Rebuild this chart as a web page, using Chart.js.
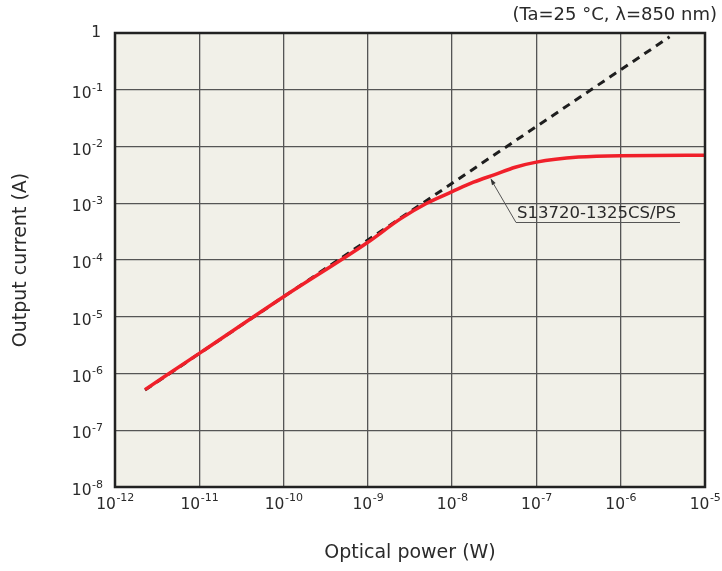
<!DOCTYPE html>
<html>
<head>
<meta charset="utf-8">
<script src="https://cdn.jsdelivr.net/npm/chart.js@4/dist/chart.umd.min.js"></script>
<style>
  html, body { margin: 0; padding: 0; background: #ffffff; }
  #wrap { width: 722px; height: 571px; position: relative; }
</style>
</head>
<body>
<div id="wrap"><canvas id="c" width="722" height="571"></canvas></div>
<script>
// Optical power (W) vs output current (A), log-log
const powerW   = [2.27e-12, 1e-11, 1e-10, 1e-9, 2.43e-9, 5e-9, 1e-8, 1.79e-8, 3.2e-8, 5.6e-8, 1e-7, 3.16e-7, 1e-6, 1e-5];
const currentA = [5.2e-7, 2.26e-6, 2.25e-5, 2.05e-4, 5.3e-4, 1.0e-3, 1.6e-3, 2.35e-3, 3.2e-3, 4.3e-3, 5.3e-3, 6.5e-3, 6.9e-3, 7.0e-3];

// Ideal linear response (dashed reference)
const linearPowerW   = [2.27e-12, 3.8e-6];
const linearCurrentA = [5.1e-7, 0.855];

// Decade ticks (exponents of 10)
const xExponents = [-12, -11, -10, -9, -8, -7, -6, -5];
const yExponents = [-8, -7, -6, -5, -4, -3, -2, -1, 0];

const seriesName = 'S13720-1325CS/PS';
const labelAnchor = [2.85e-8, 2.75e-3];
const conditionText = '(Ta=25 °C, λ=850 nm)';
const xTitle = 'Optical power (W)';
const yTitle = 'Output current (A)';

const FONT = '"DejaVu Sans", Verdana, sans-serif';
const TEXT = '#2a2a2a';

const toPoints = (xs, ys) => xs.map((x, i) => ({ x, y: ys[i] }));

const decorations = {
  id: 'decorations',
  beforeDraw(chart) {
    const { ctx, chartArea: a } = chart;
    ctx.save();
    ctx.fillStyle = '#f1f0e8';
    ctx.fillRect(a.left, a.top, a.right - a.left, a.bottom - a.top);
    ctx.restore();
  },
  afterDraw(chart) {
    const { ctx, chartArea: a, scales } = chart;
    const xs = scales.x, ys = scales.y;
    ctx.save();
    // frame
    ctx.strokeStyle = '#222';
    ctx.lineWidth = 2.5;
    ctx.strokeRect(a.left, a.top, a.right - a.left, a.bottom - a.top);

    ctx.fillStyle = TEXT;
    ctx.textBaseline = 'middle';
    const base = '15.5px ' + FONT, sup = '11px ' + FONT;

    // x tick labels
    xExponents.forEach(e => {
      const px = xs.getPixelForValue(Math.pow(10, e));
      ctx.font = base; const wb = ctx.measureText('10').width;
      ctx.font = sup; const ws = ctx.measureText('-' + Math.abs(e)).width;
      const x0 = px - (wb + ws) / 2;
      ctx.textAlign = 'left';
      ctx.font = base; ctx.fillText('10', x0, a.bottom + 18);
      ctx.font = sup; ctx.fillText('-' + Math.abs(e), x0 + wb + 0.5, a.bottom + 11);
    });

    // y tick labels
    yExponents.forEach(e => {
      const py = ys.getPixelForValue(Math.pow(10, e));
      const right = a.left - 12;
      ctx.textAlign = 'right';
      if (e === 0) {
        ctx.font = base; ctx.fillText('1', right - 2, py);
        return;
      }
      ctx.font = sup; const ws = ctx.measureText('-' + Math.abs(e)).width;
      ctx.fillText('-' + Math.abs(e), right, py - 2);
      ctx.font = base; ctx.fillText('10', right - ws - 0.5, py + 4);
    });

    // axis titles
    ctx.font = '19px ' + FONT;
    ctx.textAlign = 'center';
    ctx.fillText(xTitle, (a.left + a.right) / 2, 553);
    ctx.save();
    ctx.translate(21, (a.top + a.bottom) / 2);
    ctx.rotate(-Math.PI / 2);
    ctx.fillText(yTitle, 0, 0);
    ctx.restore();

    // measurement conditions
    ctx.font = '18px ' + FONT;
    ctx.textAlign = 'right';
    ctx.fillText(conditionText, 717, 15);

    // series label with leader line
    const tipX = xs.getPixelForValue(labelAnchor[0]);
    const tipY = ys.getPixelForValue(labelAnchor[1]);
    const ulY = 222.5, ulX0 = 516, ulX1 = 680;
    ctx.strokeStyle = '#555';
    ctx.lineWidth = 1;
    ctx.beginPath();
    ctx.moveTo(ulX1, ulY); ctx.lineTo(ulX0, ulY); ctx.lineTo(tipX + 1, tipY + 2);
    ctx.stroke();
    // arrow head
    const ang = Math.atan2(tipY - ulY, tipX - ulX0);
    ctx.fillStyle = '#333';
    ctx.beginPath();
    ctx.moveTo(tipX, tipY);
    ctx.lineTo(tipX - 7 * Math.cos(ang - 0.3), tipY - 7 * Math.sin(ang - 0.3));
    ctx.lineTo(tipX - 7 * Math.cos(ang + 0.3), tipY - 7 * Math.sin(ang + 0.3));
    ctx.closePath();
    ctx.fill();

    ctx.fillStyle = TEXT;
    ctx.font = '16.5px ' + FONT;
    ctx.textAlign = 'left';
    ctx.textBaseline = 'alphabetic';
    ctx.fillText(seriesName, ulX0 + 1, ulY - 5);
    ctx.restore();
  }
};

const decadeTicks = exps => scale => {
  scale.ticks = exps.map(e => ({ value: Math.pow(10, e) }));
};

new Chart(document.getElementById('c'), {
  type: 'line',
  data: {
    datasets: [
      {
        label: seriesName,
        data: toPoints(powerW, currentA),
        borderColor: '#f0202a',
        borderWidth: 3.5,
        pointRadius: 0,
        cubicInterpolationMode: 'monotone',
        fill: false,
        order: 1
      },
      {
        label: 'linear',
        data: toPoints(linearPowerW, linearCurrentA),
        borderColor: '#1e1e1e',
        borderWidth: 3,
        borderDash: [8, 6],
        pointRadius: 0,
        tension: 0,
        fill: false,
        order: 2
      }
    ]
  },
  options: {
    responsive: false,
    animation: false,
    layout: { padding: { top: 33, right: 17, left: 0, bottom: 0 } },
    plugins: { legend: { display: false }, tooltip: { enabled: false } },
    scales: {
      x: {
        type: 'logarithmic',
        min: 1e-12, max: 1e-5,
        afterBuildTicks: decadeTicks(xExponents),
        afterFit: s => { s.height = 84; },
        ticks: { display: false },
        grid: { color: '#555', lineWidth: 1.3, drawTicks: false },
        border: { display: false }
      },
      y: {
        type: 'logarithmic',
        min: 1e-8, max: 1,
        afterBuildTicks: decadeTicks(yExponents),
        afterFit: s => { s.width = 115; },
        ticks: { display: false },
        grid: { color: '#555', lineWidth: 1.3, drawTicks: false },
        border: { display: false }
      }
    }
  },
  plugins: [decorations]
});
</script>
</body>
</html>
